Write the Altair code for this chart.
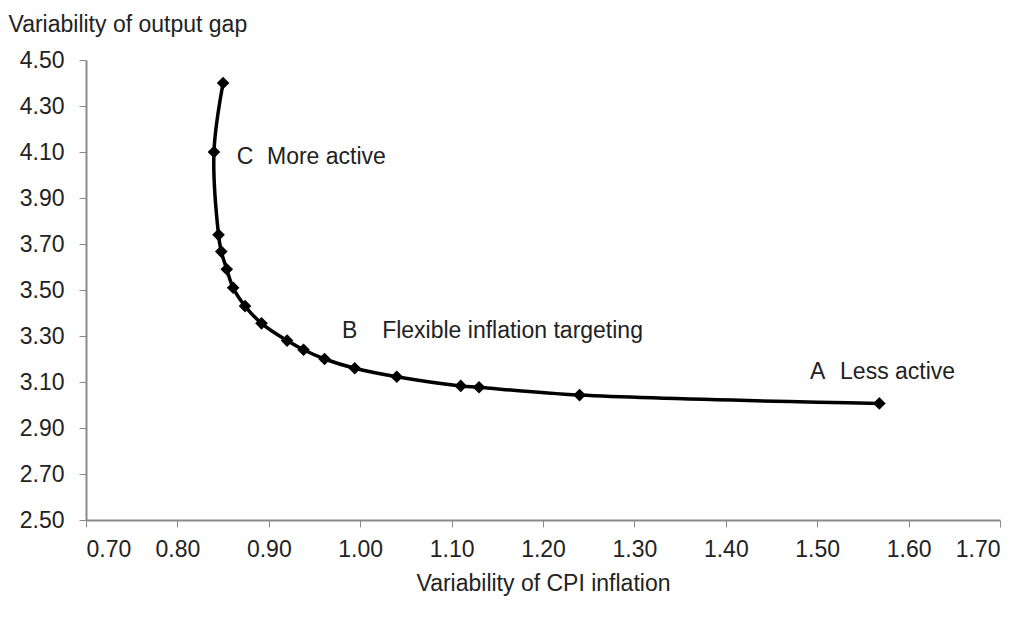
import altair as alt
import pandas as pd

# Data (ordered along the curve, top to right)
cpi_var = [0.850, 0.840, 0.845, 0.848, 0.854, 0.861, 0.874, 0.892, 0.920, 0.938,
           0.961, 0.994, 1.040, 1.110, 1.130, 1.240, 1.568]
gap_var = [4.40, 4.10, 3.74, 3.667, 3.59, 3.51, 3.43, 3.355, 3.28, 3.24,
           3.20, 3.16, 3.123, 3.083, 3.077, 3.043, 3.007]

label_text = ["C", "More active", "B", "Flexible inflation targeting", "A", "Less active"]
label_x = [0.865, 0.898, 0.980, 1.024, 1.492, 1.525]
label_y = [4.078, 4.078, 3.322, 3.322, 3.143, 3.143]

x_ticks = [0.70, 0.80, 0.90, 1.00, 1.10, 1.20, 1.30, 1.40, 1.50, 1.60, 1.70]
y_ticks = [2.50, 2.70, 2.90, 3.10, 3.30, 3.50, 3.70, 3.90, 4.10, 4.30, 4.50]

df = pd.DataFrame({"x": cpi_var, "y": gap_var, "order": list(range(len(cpi_var)))})
lab = pd.DataFrame({"text": label_text, "x": label_x, "y": label_y})

FONT = "Liberation Sans"
FS = 23

xs = alt.Scale(domain=[0.7, 1.7], nice=False, zero=False)
ys = alt.Scale(domain=[2.5, 4.5], nice=False, zero=False)

xax = alt.Axis(values=x_ticks, format=".2f", title="Variability of CPI inflation",
               grid=False, tickSize=7, labelPadding=11, titlePadding=11,
               domainColor="#8a8a8a", tickColor="#8a8a8a", domainWidth=2)
yax = alt.Axis(values=y_ticks, format=".2f", title="Variability of output gap",
               grid=False, tickSize=7, labelPadding=15,
               titleAngle=0, titleAlign="left", titleX=-78, titleY=-29,
               titleBaseline="alphabetic",
               domainColor="#8a8a8a", tickColor="#8a8a8a", domainWidth=2)

line = alt.Chart(df).mark_line(color="black", strokeWidth=3.5, interpolate="catmull-rom").encode(
    x=alt.X("x:Q", scale=xs, axis=xax),
    y=alt.Y("y:Q", scale=ys, axis=yax),
    order="order:Q",
)
pts = alt.Chart(df).mark_point(shape="diamond", filled=True, color="black", size=160, opacity=1).encode(
    x=alt.X("x:Q", scale=xs),
    y=alt.Y("y:Q", scale=ys),
)
txt = alt.Chart(lab).mark_text(align="left", baseline="middle", fontSize=FS, font=FONT, color="#222").encode(
    x=alt.X("x:Q", scale=xs),
    y=alt.Y("y:Q", scale=ys),
    text="text:N",
)

chart = (line + pts + txt).properties(
    width=914, height=460,
    autosize=alt.AutoSizeParams(type="none"),
    padding={"left": 78, "top": 52, "right": 17, "bottom": 89},
    background="white",
).configure_view(stroke=None).configure_axis(
    labelFont=FONT, titleFont=FONT, labelFontSize=FS, titleFontSize=FS,
    labelColor="#222", titleColor="#222", titleFontWeight="normal",
)

chart.save("out.html", embed_options={"renderer": "svg", "actions": False})
